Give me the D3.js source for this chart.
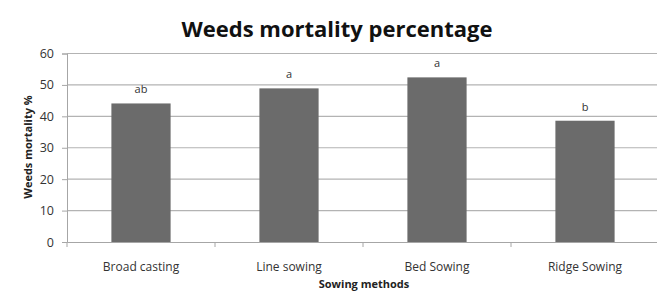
<!DOCTYPE html>
<html>
<head>
<meta charset="utf-8">
<script src="https://cdn.jsdelivr.net/npm/d3@7"></script>
<style>
  body { margin: 0; background: #fff; }
  text { font-family: "Open Sans", "DejaVu Sans", sans-serif; }
</style>
</head>
<body>
<script>
// chart data
const methods = ["Broad casting", "Line sowing", "Bed Sowing", "Ridge Sowing"];
const mortality = [44.1, 48.9, 52.4, 38.6];
const letters = ["ab", "a", "a", "b"];
const yTicks = [0, 10, 20, 30, 40, 50, 60];

let w = 657;
let h = 293;

const svg = d3.select("body")
    .append("svg")
    .attr("width", w)
    .attr("height", h);

// scales
const xScale = d3.scaleBand()
    .domain(methods)
    .range([67, 659])
    .padding(0);

const yScale = d3.scaleLinear()
    .domain([0, 60])
    .range([242, 53.5]);

// gridlines
svg.append("g")
    .selectAll("line")
    .data(yTicks.filter(d => d > 0))
    .enter()
    .append("line")
    .attr("x1", 67)
    .attr("x2", 659)
    .attr("y1", d => yScale(d))
    .attr("y2", d => yScale(d))
    .attr("stroke", "#b3b3b3")
    .attr("stroke-width", 1.2);

// y axis
const yAxis = svg.append("g")
    .attr("transform", "translate(67,0)")
    .call(d3.axisLeft(yScale).tickValues(yTicks).tickSize(5).tickPadding(8));
yAxis.select(".domain").attr("stroke", "#a6a6a6");
yAxis.selectAll(".tick line").attr("stroke", "#a6a6a6");
yAxis.selectAll("text")
    .attr("font-size", 12.5)
    .attr("fill", "#333");

// bars
const barW = xScale.bandwidth() * 0.4;
svg.selectAll("rect.bar")
    .data(mortality)
    .enter()
    .append("rect")
    .attr("class", "bar")
    .attr("x", (d, i) => xScale(methods[i]) + (xScale.bandwidth() - barW) / 2)
    .attr("y", d => yScale(d))
    .attr("width", barW)
    .attr("height", d => yScale(0) - yScale(d))
    .attr("fill", "#6b6b6b");

// significance letters
svg.selectAll("text.letter")
    .data(letters)
    .enter()
    .append("text")
    .attr("class", "letter")
    .attr("x", (d, i) => xScale(methods[i]) + xScale.bandwidth() / 2)
    .attr("y", (d, i) => yScale(mortality[i]) - 10)
    .attr("text-anchor", "middle")
    .attr("font-size", 11)
    .attr("fill", "#333")
    .text(d => d);

// x axis
const xAxis = svg.append("g")
    .attr("transform", "translate(0,242)")
    .call(d3.axisBottom(xScale).tickSize(0).tickPadding(20));
xAxis.select(".domain").attr("stroke", "#a6a6a6");
xAxis.selectAll("text")
    .attr("font-size", 12)
    .attr("fill", "#333");

// boundary ticks between categories
svg.append("g")
    .selectAll("line")
    .data(methods)
    .enter()
    .append("line")
    .attr("x1", d => xScale(d))
    .attr("x2", d => xScale(d))
    .attr("y1", 242)
    .attr("y2", 247)
    .attr("stroke", "#a6a6a6");

// titles
svg.append("text")
    .attr("x", 337)
    .attr("y", 37)
    .attr("text-anchor", "middle")
    .attr("font-size", 22)
    .attr("font-weight", "bold")
    .attr("fill", "#111")
    .text("Weeds mortality percentage");

svg.append("text")
    .attr("x", 364)
    .attr("y", 288)
    .attr("text-anchor", "middle")
    .attr("font-size", 11)
    .attr("font-weight", "bold")
    .attr("fill", "#222")
    .text("Sowing methods");

svg.append("text")
    .attr("text-anchor", "middle")
    .attr("transform", "translate(32,147)rotate(-90)")
    .attr("font-size", 11)
    .attr("font-weight", "bold")
    .attr("fill", "#222")
    .text("Weeds mortality %");
</script>
</body>
</html>
